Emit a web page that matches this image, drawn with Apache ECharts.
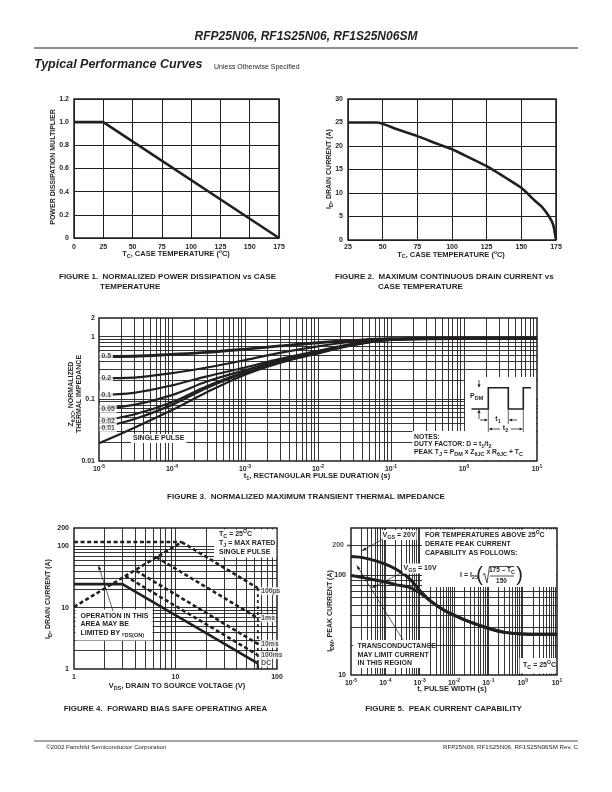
<!DOCTYPE html>
<html>
<head>
<meta charset="utf-8">
<script src="https://cdn.jsdelivr.net/npm/echarts@6.0.0/dist/echarts.min.js"></script>
<style>
html,body{margin:0;padding:0;background:#fff;}
#chart{width:612px;height:792px;}
</style>
</head>
<body>
<div id="chart"></div>
<script>
// ================= DATA =================
// Figure 1 - normalized power dissipation vs case temperature
const fig1Temp = [0, 25, 175];
const fig1Multiplier = [1.0, 1.0, 0.0];
const fig1YTickLabels = ['0', '0.2', '0.4', '0.6', '0.8', '1.0', '1.2'];

// Figure 2 - max continuous drain current vs case temperature
const fig2Temp    = [25, 46, 60, 75, 90, 100, 110, 125, 140, 150, 160, 165, 170, 173, 175];
const fig2Current = [25, 25, 23.6, 22.1, 20.4, 19.3, 17.9, 15.7, 13.0, 11.1, 8.3, 7.0, 5.0, 3.2, 0];

// Figure 3 - normalized transient thermal impedance
const fig3Time = [1e-5, 3e-5, 1e-4, 3e-4, 1e-3, 3e-3, 1e-2, 3e-2, 1e-1, 1, 10];
const fig3CurveNames = ['0.5', '0.2', '0.1', '0.05', '0.02', '0.01', 'SINGLE PULSE'];
const fig3Z05     = [0.48, 0.485, 0.52, 0.56, 0.63, 0.71, 0.80, 0.87, 0.93, 0.95, 0.95];
const fig3Z02     = [0.215, 0.22, 0.26, 0.32, 0.42, 0.55, 0.70, 0.83, 0.92, 0.95, 0.95];
const fig3Z01     = [0.116, 0.125, 0.165, 0.23, 0.32, 0.44, 0.59, 0.77, 0.91, 0.94, 0.94];
const fig3Z005    = [0.069, 0.08, 0.115, 0.19, 0.29, 0.42, 0.57, 0.76, 0.90, 0.94, 0.94];
const fig3Z002    = [0.044, 0.056, 0.088, 0.16, 0.27, 0.40, 0.56, 0.75, 0.90, 0.93, 0.93];
const fig3Z001    = [0.034, 0.047, 0.080, 0.15, 0.26, 0.39, 0.55, 0.74, 0.89, 0.93, 0.93];
const fig3ZSingle = [0.0193, 0.034, 0.066, 0.128, 0.245, 0.38, 0.54, 0.73, 0.89, 0.92, 0.92];
const fig3XExponents = ['-5', '-4', '-3', '-2', '-1', '0', '1'];
const fig3YTickLabels = ['0.01', '0.1', '1', '2'];

// Figure 4 - forward bias safe operating area
const fig4RdsV   = [1, 11.5];   const fig4RdsI   = [10.3, 118];
const fig4MaxV   = [1, 11.5];   const fig4MaxI   = [118, 118];
const fig4V100us = [11.5, 64.7]; const fig4I100us = [118, 20.9];
const fig4V1ms   = [6.45, 64.7]; const fig4I1ms   = [67, 6.76];
const fig4V10ms  = [4.1, 64.7];  const fig4I10ms  = [40, 2.57];
const fig4V100ms = [3.2, 64.7];  const fig4I100ms = [33, 1.69];
const fig4VDC    = [1, 3.0, 64.7]; const fig4IDC = [24.3, 24.3, 1.24];
const fig4VEdge  = [64.7, 64.7];
const fig4IEdgeDash = [20.9, 1];
const fig4IEdgeDC   = [1.24, 1];
const fig4CurveNames = ['100\u00b5s', '1ms', '10ms', '100ms', 'DC'];
const fig4XTickLabels = ['1', '10', '100'];
const fig4YTickLabels = ['1', '10', '100', '200'];

// Figure 5 - peak current capability
const fig5Time = [1e-5, 2e-5, 5e-5, 1e-4, 2e-4, 5e-4, 1e-3, 2e-3, 5e-3, 1e-2, 3e-2, 1e-1, 3e-1, 1, 10];
const fig5I20V = [155, 152, 141, 130, 116, 93, 71, 56, 45, 40, 34, 29.5, 26.8, 25.8, 25.6];
const fig5I10V = [100, 96, 90, 86, 81, 76, 67, 56, 45, 40, 34, 29.5, 26.8, 25.8, 25.6];
const fig5YTickLabels = ['10', '100', '200'];

// ================= STYLE / HELPERS =================
const INK = '#231f20';
const FF = "'Liberation Sans', Arial, Helvetica, sans-serif";
const zip = (xs, ys) => xs.map((x, i) => [x, ys[i]]);

function logGrid(min, max) {
  const out = [];
  for (let e = Math.floor(Math.log10(min)); e <= Math.ceil(Math.log10(max)); e++) {
    for (let d = 1; d <= 9; d++) {
      const v = +(d * Math.pow(10, e)).toPrecision(3);
      if (v > min * 1.0001 && v < max * 0.9999) out.push(v);
    }
  }
  return out;
}
function gridML(xs, ys) {
  return {
    silent: true, symbol: ['none', 'none'], animation: false, z: 1, precision: 20,
    label: {show: false}, emphasis: {disabled: true},
    lineStyle: {color: INK, width: 0.9, type: 'solid', opacity: 1},
    data: xs.map(v => ({xAxis: v})).concat(ys.map(v => ({yAxis: v})))
  };
}
const LABEL = {fontSize: 7, fontWeight: 'bold', fontFamily: FF, color: INK};
const AXRICH = {
  s: {fontSize: 5, fontWeight: 'bold', fontFamily: FF, color: INK, padding: [0, 0, 5, 0]}
};
function axis(gridIndex, type, min, max, extra, labelExtra) {
  const a = {
    gridIndex, type, min, max,
    axisLine: {show: false}, axisTick: {show: false}, splitLine: {show: false},
    axisLabel: Object.assign({}, LABEL, {margin: 5, showMinLabel: true, showMaxLabel: true, hideOverlap: false}, labelExtra || {})
  };
  if (type === 'log') a.logBase = 10;
  return Object.assign(a, extra || {});
}
const powLabel = v => {
  const e = Math.round(Math.log10(v));
  return '10{s|' + fig3XExponents[e + 5] + '}';
};

// ================= SERIES =================
const series = [];
// Fig 1
series.push({type: 'line', xAxisIndex: 0, yAxisIndex: 0, data: zip(fig1Temp, fig1Multiplier),
  symbol: 'none', lineStyle: {color: INK, width: 2.6}, z: 3});
// Fig 2
series.push({type: 'line', xAxisIndex: 1, yAxisIndex: 1, data: zip(fig2Temp, fig2Current),
  symbol: 'none', smooth: 0.2, lineStyle: {color: INK, width: 2.6}, z: 3});
// Fig 3
const fig3Curves = [fig3Z05, fig3Z02, fig3Z01, fig3Z005, fig3Z002, fig3Z001, fig3ZSingle];
fig3Curves.forEach((arr, i) => {
  const s = {type: 'line', xAxisIndex: 2, yAxisIndex: 2, data: zip(fig3Time, arr),
    symbol: 'none', smooth: 0.35, lineStyle: {color: INK, width: i === 0 ? 2.8 : 2.2}, z: 3};
  if (i === 0) s.markLine = gridML(logGrid(1e-5, 10), logGrid(0.01, 2));
  series.push(s);
});
series.push({type: 'scatter', xAxisIndex: 2, yAxisIndex: 2, z: 6, silent: true, symbolSize: 1,
  itemStyle: {color: 'rgba(0,0,0,0)'},
  data: fig3Curves.slice(0, 6).map((arr, i) => ({value: [fig3Time[0], arr[0]], name: fig3CurveNames[i]})),
  label: Object.assign({}, LABEL, {show: true, position: 'right', distance: 0, formatter: '{b}', fontSize: 6.8,
    backgroundColor: '#fff', padding: [1, 2, 0, 2]})});
// Fig 4
const dash = {color: INK, width: 2.6, type: [4, 2.6]};
const f4 = (v, i, ls, extra) => Object.assign({type: 'line', xAxisIndex: 3, yAxisIndex: 3, data: zip(v, i),
  symbol: 'none', lineStyle: ls, z: 3}, extra || {});
series.push(f4(fig4RdsV, fig4RdsI, dash, {markLine: gridML(logGrid(1, 100), logGrid(1, 200))}));
series.push(f4(fig4MaxV, fig4MaxI, dash));
series.push(f4(fig4V100us, fig4I100us, dash));
series.push(f4(fig4V1ms, fig4I1ms, dash));
series.push(f4(fig4V10ms, fig4I10ms, dash));
series.push(f4(fig4V100ms, fig4I100ms, dash));
series.push(f4(fig4VEdge, fig4IEdgeDash, {color: INK, width: 1.8, type: [3, 3]}));
series.push(f4(fig4VDC, fig4IDC, {color: INK, width: 2.6}));
series.push(f4(fig4VEdge, fig4IEdgeDC, {color: INK, width: 2}));
const fig4Ends = [[fig4V100us, fig4I100us], [fig4V1ms, fig4I1ms], [fig4V10ms, fig4I10ms],
  [fig4V100ms, fig4I100ms], [fig4VDC, fig4IDC]];
series.push({type: 'scatter', xAxisIndex: 3, yAxisIndex: 3, z: 6, silent: true, symbolSize: 1,
  itemStyle: {color: 'rgba(0,0,0,0)'},
  data: fig4Ends.map((p, i) => ({value: [p[0][p[0].length - 1], p[1][p[1].length - 1]], name: fig4CurveNames[i],
    label: i === 0 ? {offset: [0, 3]} : {}})),
  label: Object.assign({}, LABEL, {show: true, position: 'right', distance: 2, formatter: '{b}', fontSize: 6.8,
    backgroundColor: '#fff', padding: [1, 1, 0, 1]})});
// Fig 5
series.push({type: 'line', xAxisIndex: 4, yAxisIndex: 4, data: zip(fig5Time, fig5I20V), symbol: 'none',
  smooth: 0.3, lineStyle: {color: INK, width: 3}, z: 3,
  markLine: gridML(logGrid(1e-5, 10), logGrid(10, 300))});
series.push({type: 'line', xAxisIndex: 4, yAxisIndex: 4, data: zip(fig5Time, fig5I10V), symbol: 'none',
  smooth: 0.3, lineStyle: {color: INK, width: 3}, z: 3});
series.push({type: 'scatter', xAxisIndex: 4, yAxisIndex: 4, z: 6, silent: true,
  symbol: 'rect', symbolSize: [5, 1.5], symbolOffset: [-1.5, 0], itemStyle: {color: INK},
  data: [{value: [fig5Time[0], +fig5YTickLabels[2]], name: fig5YTickLabels[2]}],
  label: Object.assign({}, LABEL, {show: true, position: 'left', distance: 3, formatter: '{b}'})});

// ================= GRAPHIC (text & annotations) =================
const GRICH = {
  sub: {fontSize: 5.5, fontWeight: 'bold', fontFamily: FF, fill: INK, color: INK, padding: [4, 0, 0, 0]},
  sup: {fontSize: 5, fontWeight: 'bold', fontFamily: FF, fill: INK, color: INK, padding: [0, 0, 4, 0]},
  r: {fontSize: 6, fontWeight: 'bold', fontFamily: FF, fill: INK, color: INK, padding: [2, 0, 0, 0]}
};
const G = [];
function T(x, y, text, o) {
  o = o || {};
  const st = {text, fontSize: o.size || 7, fontWeight: o.weight || 'bold', fontStyle: o.italic ? 'italic' : 'normal',
    fontFamily: FF, fill: INK, align: o.align || 'left', verticalAlign: 'middle',
    textAlign: o.align || 'left', textVerticalAlign: 'middle', rich: GRICH};
  if (o.bg) { st.backgroundColor = o.bg; st.padding = o.pad || [1, 2]; }
  G.push({type: 'text', x, y, rotation: o.rot || 0, z: 30, style: st});
}
function L(x1, y1, x2, y2, w) {
  G.push({type: 'line', z: 30, shape: {x1, y1, x2, y2}, style: {stroke: INK, lineWidth: w || 1}});
}
function R(x, y, w, h) {
  G.push({type: 'rect', z: 25, shape: {x, y, width: w, height: h}, style: {fill: '#fff'}});
}
function A(x1, y1, x2, y2, w, hl, hw) {
  w = w || 0.8; hl = hl || 5; hw = hw || 1.8;
  const a = Math.atan2(y2 - y1, x2 - x1);
  const bx = x2 - hl * Math.cos(a), by = y2 - hl * Math.sin(a);
  const px = -Math.sin(a) * hw, py = Math.cos(a) * hw;
  G.push({type: 'line', z: 31, shape: {x1, y1, x2: bx, y2: by}, style: {stroke: INK, lineWidth: w}});
  G.push({type: 'polygon', z: 31, shape: {points: [[x2, y2], [bx + px, by + py], [bx - px, by - py]]}, style: {fill: INK}});
}
const ROT = Math.PI / 2;

// Header & footer
T(306, 37, 'RFP25N06, RF1S25N06, RF1S25N06SM', {size: 12, italic: true, align: 'center'});
L(34, 48, 578, 48, 1);
T(34, 65, 'Typical Performance Curves', {size: 12.5, italic: true});
T(214, 67, 'Unless Otherwise Specified', {size: 7, weight: 'normal'});
L(34, 741, 578, 741, 0.8);
T(46, 747, '\u00a92002 Fairchild Semiconductor Corporation', {size: 6.2, weight: 'normal'});
T(578, 747, 'RFP25N06, RF1S25N06, RF1S25N06SM Rev. C', {size: 6.2, weight: 'normal', align: 'right'});

// Figure 1
T(53, 167, 'POWER DISSIPATION MULTIPLIER', {rot: ROT, align: 'center'});
T(176, 254, 'T{sub|C}, CASE TEMPERATURE ({sup|o}C)', {size: 7.5, align: 'center'});
T(59, 277, 'FIGURE 1.  NORMALIZED POWER DISSIPATION vs CASE', {size: 8});
T(100, 287, 'TEMPERATURE', {size: 8});

// Figure 2
T(329, 169, 'I{sub|D}, DRAIN CURRENT (A)', {rot: ROT, align: 'center'});
T(451, 254.5, 'T{sub|C}, CASE TEMPERATURE ({sup|o}C)', {size: 7.5, align: 'center'});
T(335, 277, 'FIGURE 2.  MAXIMUM CONTINUOUS DRAIN CURRENT vs', {size: 8});
T(378, 287, 'CASE TEMPERATURE', {size: 8});

// Figure 3
T(71, 394, 'Z{sub|\u03b8JC}, NORMALIZED', {rot: ROT, align: 'center'});
T(79.5, 394, 'THERMAL IMPEDANCE', {rot: ROT, align: 'center'});
T(317, 476, 't{sub|1}, RECTANGULAR PULSE DURATION (s)', {size: 7.5, align: 'center'});
T(131, 438.5, 'SINGLE PULSE', {bg: '#fff', pad: [1, 2]});
R(465, 377, 71, 54);
R(412.5, 431, 123.5, 29);
G.push({type: 'polyline', z: 30, shape: {points: [[471.5, 409], [488.3, 409], [488.3, 387.7], [508.3, 387.7],
  [508.3, 409], [523.3, 409], [523.3, 387.7], [531, 387.7]]}, style: {stroke: INK, lineWidth: 1.6, fill: null}});
A(479, 380, 479, 387.7, 0.8, 3.5, 1.6);
A(479, 419, 479, 409.5, 0.8, 3.5, 1.6);
T(470, 396, 'P{sub|DM}', {});
L(488.3, 410, 488.3, 432, 0.7);
L(508.3, 410, 508.3, 424, 0.7);
L(523.3, 410, 523.3, 432, 0.7);
A(480, 420, 488, 420, 0.8, 3.5, 1.5);
A(517, 420, 508.6, 420, 0.8, 3.5, 1.5);
T(498, 419, 't{sub|1}', {align: 'center'});
A(500, 429, 488.6, 429, 0.8, 3.5, 1.5);
A(511, 429, 523, 429, 0.8, 3.5, 1.5);
T(505.5, 428, 't{sub|2}', {align: 'center'});
T(414, 437, 'NOTES:', {size: 6.8});
T(414, 444.5, 'DUTY FACTOR: D = t{sub|1}/t{sub|2}', {size: 6.8});
T(414, 452.5, 'PEAK T{sub|J} = P{sub|DM} x Z{sub|\u03b8JC} x R{sub|\u03b8JC} + T{sub|C}', {size: 6.8});
T(306, 497, 'FIGURE 3.  NORMALIZED MAXIMUM TRANSIENT THERMAL IMPEDANCE', {size: 8, align: 'center'});

// Figure 4
T(48.5, 599, 'I{sub|D}, DRAIN CURRENT (A)', {rot: ROT, align: 'center'});
T(177, 686, 'V{sub|DS}, DRAIN TO SOURCE VOLTAGE (V)', {size: 7.5, align: 'center'});
R(214, 529.5, 62.3, 28);
T(219, 534, 'T{sub|C} = 25{sup|O}C', {});
T(219, 543, 'T{sub|J} = MAX RATED', {});
T(219, 552.3, 'SINGLE PULSE', {});
R(75.5, 609.5, 77, 31);
T(80.5, 615.7, 'OPERATION IN THIS', {});
T(80.5, 624, 'AREA MAY BE', {});
T(80.5, 633, 'LIMITED BY {r|r}{sub|DS(ON)}', {});
A(113, 611, 98.3, 565, 0.7, 5, 1.6);
T(165.5, 709, 'FIGURE 4.  FORWARD BIAS SAFE OPERATING AREA', {size: 8, align: 'center'});

// Figure 5
T(330.5, 611, 'I{sub|DM}, PEAK CURRENT (A)', {rot: ROT, align: 'center'});
T(452, 689, 't, PULSE WIDTH (s)', {size: 7.5, align: 'center'});
R(422, 529.5, 134, 57.5);
T(425, 535, 'FOR TEMPERATURES ABOVE 25{sup|O}C', {});
T(425, 544, 'DERATE PEAK CURRENT', {});
T(425, 552.7, 'CAPABILITY AS FOLLOWS:', {});
T(460, 575, 'I = I{sub|25}', {});
T(479.5, 575, '(', {size: 20, weight: 'normal', align: 'center'});
T(519.5, 575, ')', {size: 20, weight: 'normal', align: 'center'});
G.push({type: 'polyline', z: 30, shape: {points: [[482.5, 575], [484.5, 573.5], [487, 583], [489.5, 566.5], [514, 566.5]]},
  style: {stroke: INK, lineWidth: 0.8, fill: null}});
T(502, 570.5, '175 \u2013 T{sub|C}', {size: 6.5, align: 'center'});
L(490, 576, 514, 576, 0.8);
T(501.5, 581.5, '150', {size: 6.5, align: 'center'});
T(381.5, 535, 'V{sub|GS} = 20V', {bg: '#fff', pad: [0, 1]});
T(402.5, 568.5, 'V{sub|GS} = 10V', {bg: '#fff', pad: [0, 1]});
A(383, 539, 361.5, 551, 0.7, 5, 1.6);
A(403, 572, 371.5, 588, 0.7, 5, 1.6);
R(353, 640, 75, 28);
T(357.5, 646, 'TRANSCONDUCTANCE', {});
T(357.5, 655, 'MAY LIMIT CURRENT', {});
T(357.5, 663.5, 'IN THIS REGION', {});
A(403, 640, 356.5, 565, 0.7, 5, 1.6);
R(519.5, 658, 36.5, 15.5);
T(523, 665, 'T{sub|C} = 25{sup|O}C', {});
T(443.5, 709, 'FIGURE 5.  PEAK CURRENT CAPABILITY', {size: 8, align: 'center'});

// ================= OPTION =================
const gridBase = {show: true, borderColor: INK, borderWidth: 1.5, backgroundColor: '#fff', containLabel: false};
const option = {
  animation: false,
  backgroundColor: '#fff',
  grid: [
    Object.assign({left: 74, top: 99, width: 205, height: 139}, gridBase),
    Object.assign({left: 348, top: 99, width: 208, height: 141}, gridBase),
    Object.assign({left: 99, top: 318, width: 438, height: 143}, gridBase),
    Object.assign({left: 74, top: 528, width: 203, height: 141}, gridBase),
    Object.assign({left: 351, top: 528, width: 206, height: 147}, gridBase)
  ],
  xAxis: [
    axis(0, 'value', 0, 175, {interval: 25, splitLine: {show: true, lineStyle: {color: INK, width: 1}}}, {margin: 6}),
    axis(1, 'value', 25, 175, {interval: 25, splitLine: {show: true, lineStyle: {color: INK, width: 1}}}, {margin: 4}),
    axis(2, 'log', 1e-5, 10, {}, {formatter: powLabel, rich: AXRICH, margin: 3}),
    axis(3, 'log', 1, 100, {}, {margin: 5, formatter: v => {
      const s = String(Math.round(v)); return fig4XTickLabels.includes(s) ? s : ''; }}),
    axis(4, 'log', 1e-5, 10, {}, {formatter: powLabel, rich: AXRICH, margin: 3})
  ],
  yAxis: [
    axis(0, 'value', 0, 1.2, {interval: 0.2, splitLine: {show: true, lineStyle: {color: INK, width: 1}}},
      {margin: 5, formatter: v => fig1YTickLabels[Math.round(v / 0.2)]}),
    axis(1, 'value', 0, 30, {interval: 5, splitLine: {show: true, lineStyle: {color: INK, width: 1}}}, {margin: 5}),
    axis(2, 'log', 0.01, 2, {}, {margin: 4, formatter: v => {
      const s = String(+v.toPrecision(2)); return fig3YTickLabels.includes(s) ? s : ''; }}),
    axis(3, 'log', 1, 200, {}, {margin: 5, formatter: v => {
      const s = String(Math.round(v)); return fig4YTickLabels.includes(s) ? s : ''; }}),
    axis(4, 'log', 10, 300, {}, {margin: 5, formatter: v => {
      const s = String(Math.round(v)); return fig5YTickLabels.includes(s) ? s : ''; }})
  ],
  series,
  graphic: {elements: G}
};
const chart = echarts.init(document.getElementById('chart'), null, {renderer: 'canvas'});
chart.setOption(option);
</script>
</body>
</html>
